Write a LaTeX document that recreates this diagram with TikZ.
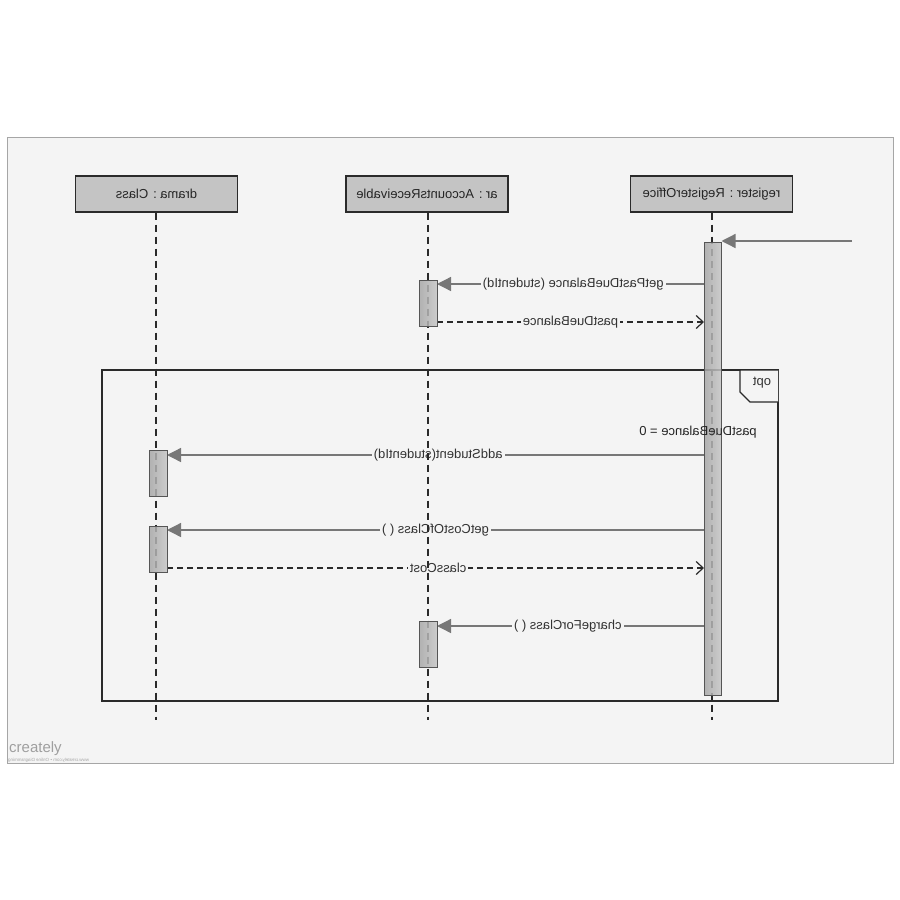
\documentclass[tikz,border=0pt]{standalone}
\usepackage{fontspec}
\setmainfont{Liberation Sans}
\usetikzlibrary{arrows.meta}
\definecolor{paper}{HTML}{F4F4F4}
\definecolor{headfill}{HTML}{C4C4C4}
\definecolor{msgline}{HTML}{777777}
\definecolor{edge}{HTML}{2A2A2A}
\tikzset{
  x=1pt, y=-1pt,
  mirror/.style={xscale=-1},
  txt/.style={mirror, font=\fontsize{13}{15}\selectfont, text=black!85},
  head/.style={draw=edge, line width=1.3pt, fill=headfill, minimum width=162pt, minimum height=36pt, inner sep=0pt},
  life/.style={draw=edge, line width=1.4pt, dash pattern=on 7pt off 5pt},
  actbar/.style={draw=edge!80, line width=1pt, left color=gray!70, right color=gray!45, fill opacity=0.85, minimum width=18pt, minimum height=46pt, inner sep=0pt},
  call/.style={draw=msgline, line width=1.3pt, -{Triangle[length=14pt,width=14pt]}},
  reply/.style={draw=edge, line width=1.2pt, dash pattern=on 6pt off 4pt, -{Straight Barb[length=7pt,width=13pt,line width=1.2pt]}},
  msglabel/.style={txt, fill=paper, inner sep=2pt, text=black!80},
  framebox/.style={draw=edge, line width=1.4pt}
}
\begin{document}
\begin{tikzpicture}
\useasboundingbox (0,0) rectangle (900,900);
% canvas
\fill[white] (0,0) rectangle (900,900);
\draw[draw=gray!70, line width=0.8pt, fill=paper] (7,137) rectangle (893,763);

% lifeline heads
\node[head] (drama) at (156.5,194) {};
\node[txt] (dramaT) at (156.5,194) {drama : Class};
\node[head] (ar) at (427,194) {};
\node[txt] (arT) at (427,194) {ar : AccountsReceivable};
\node[head] (reg) at (711.5,194) {};
\node[txt] (regT) at (711.5,194) {register : RegisterOffice};

% combined fragment
\draw[framebox] (102,370) rectangle (778,701);
\draw[framebox, fill=paper] (778,370) -- (740,370) -- (740,392) -- (750,402) -- (778,402);
\node[txt, text=black!80] (optT) at (762,383) {opt};

% positions of the activation bars
\coordinate (regTop) at (712.5,242);
\coordinate (arAct1P) at (428,303);
\coordinate (arAct2P) at (428,644);
\coordinate (drAct1P) at (158,473);
\coordinate (drAct2P) at (158,549);

% messages (labels first, lifelines are drawn over them)
\coordinate (found) at (852,241);
\coordinate (m1) at (704,284);
\coordinate (r1) at (437,322);
\coordinate (m2) at (704,455);
\coordinate (m3) at (704,530);
\coordinate (r2) at (167,568);
\coordinate (m4) at (704,626);
\draw[call] (found) -- ([xshift=9pt]found -| regTop);
\draw[call] (m1) -- ([xshift=9pt]m1 -| arAct1P)
  node[msglabel, pos=0.49] (m1T) {getPastDueBalance (studentId)};
\draw[reply] (r1) -- ([xshift=-8.5pt]r1 -| regTop)
  node[msglabel, pos=0.5] (r1T) {pastDueBalance};
\draw[call] (m2) -- ([xshift=9pt]m2 -| drAct1P)
  node[msglabel, pos=0.495] (m2T) {addStudent(studentId)};
\draw[call] (m3) -- ([xshift=9pt]m3 -| drAct2P)
  node[msglabel, pos=0.5] (m3T) {getCostOfClass ( )};
\draw[reply] (r2) -- ([xshift=-8.5pt]r2 -| regTop)
  node[msglabel, pos=0.505] (r2T) {classCost};
\draw[call] (m4) -- ([xshift=9pt]m4 -| arAct2P)
  node[msglabel, pos=0.51] (m4T) {chargeForClass ( )};

% lifelines
\coordinate (dramaEnd) at (156,720);
\coordinate (arEnd) at (428,720);
\coordinate (regEnd) at (712,720);
\draw[life] (drama.south -| dramaEnd) -- (dramaEnd);
\draw[life] (ar.south -| arEnd) -- (arEnd);
\draw[life] (reg.south -| regEnd) -- (regEnd);

% activation bars
\node[actbar, minimum width=17pt, minimum height=453pt, anchor=north] (regAct) at (regTop) {};
\node[actbar] (arAct1) at (arAct1P) {};
\node[actbar] (arAct2) at (arAct2P) {};
\node[actbar] (drAct1) at (drAct1P) {};
\node[actbar] (drAct2) at (drAct2P) {};

% guard condition
\node[txt] (guard) at (698,432) {pastDueBalance = 0};

% tool watermark
\node[anchor=west, inner sep=0pt, font=\fontsize{15}{16}\selectfont, text=gray!75] (wm) at (9,749) {creately};
\node[mirror, anchor=east, inner sep=0pt, font=\fontsize{4.5}{5}\selectfont, text=gray!70] (wmSub) at (8,760) {www.creately.com • Online Diagramming};
\end{tikzpicture}
\end{document}
